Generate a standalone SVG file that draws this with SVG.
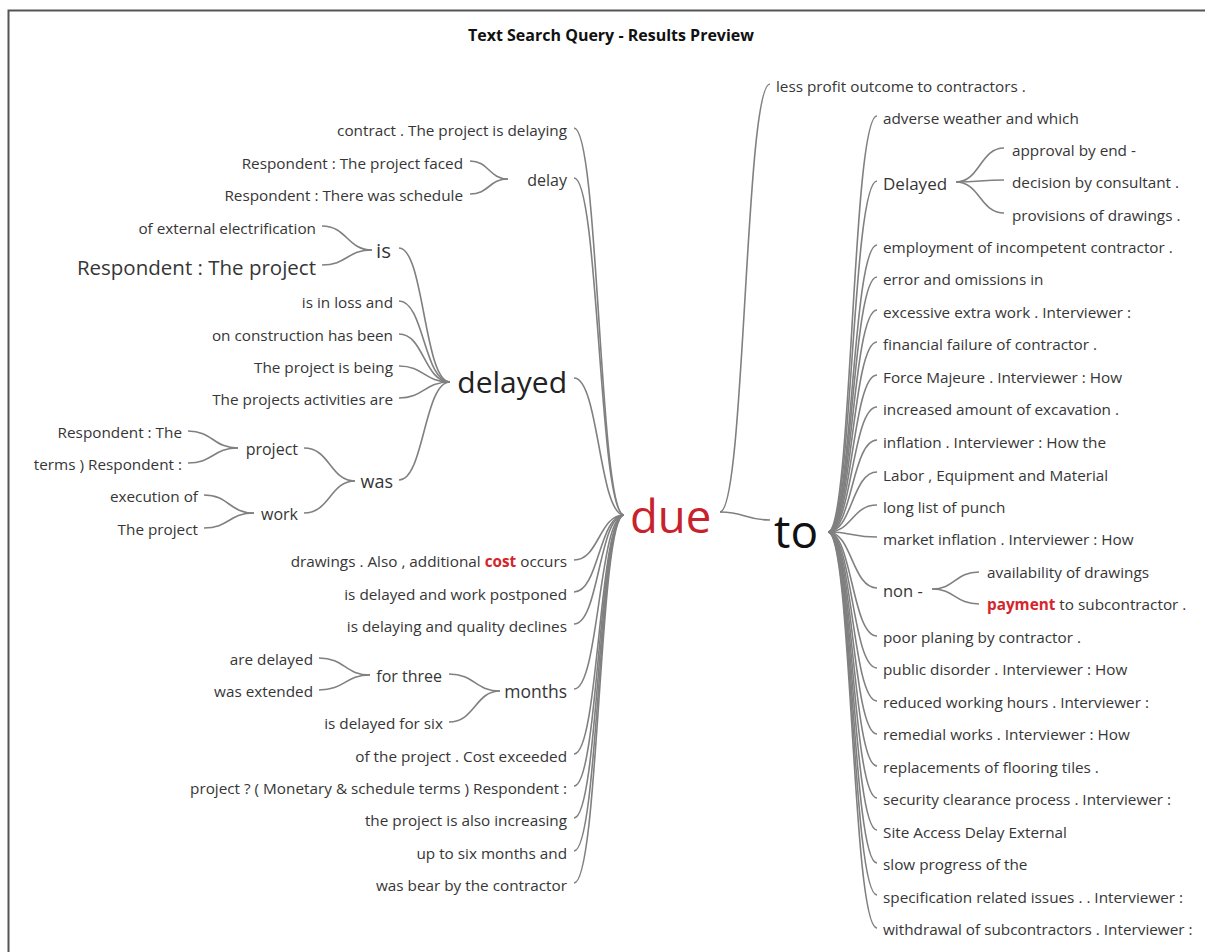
<svg xmlns="http://www.w3.org/2000/svg" width="1205" height="952" viewBox="0 0 1205 952">
<style>
text{font-family:"Open Sans","Noto Sans",sans-serif;fill:#363636;font-size:15.3px}
.e{text-anchor:end}
.hl{fill:#d3262c;font-weight:bold}
#connectors path{fill:none;stroke:#808080;stroke-width:1.6}
</style>
<rect width="1205" height="952" fill="#fff"/>
<path d="M8.5 952 V10.5 H1205" fill="none" stroke="#555" stroke-width="2"/>
<g id="title"><text x="611" y="41" text-anchor="middle" style="font-weight:bold;font-size:16px;fill:#111">Text Search Query - Results Preview</text></g>

<g id="connectors">
<path d="M574 128 C599 128 599 515 624 515"/>
<path d="M574 178 C599 178 599 515 624 515"/>
<path d="M574 378 C599 378 599 515 624 515"/>
<path d="M574 560 C599 560 599 515 624 515"/>
<path d="M574 592 C599 592 599 515 624 515"/>
<path d="M574 624 C599 624 599 515 624 515"/>
<path d="M574 689 C599 689 599 515 624 515"/>
<path d="M574 754 C599 754 599 515 624 515"/>
<path d="M574 786 C599 786 599 515 624 515"/>
<path d="M574 818 C599 818 599 515 624 515"/>
<path d="M574 851 C599 851 599 515 624 515"/>
<path d="M574 883 C599 883 599 515 624 515"/>
<path d="M470 161 C489 161 489 179 508 179"/>
<path d="M470 194 C489 194 489 179 508 179"/>
<path d="M322 226 C347 226 347 250 372 250"/>
<path d="M322 265 C347 265 347 250 372 250"/>
<path d="M399 248 C424 248 424 382 450 382"/>
<path d="M399 301 C424 301 424 382 450 382"/>
<path d="M399 334 C424 334 424 382 450 382"/>
<path d="M399 366 C424 366 424 382 450 382"/>
<path d="M399 398 C424 398 424 382 450 382"/>
<path d="M399 480 C424 480 424 382 450 382"/>
<path d="M188 431 C213 431 213 448 238 448"/>
<path d="M188 463 C213 463 213 448 238 448"/>
<path d="M204 495 C229 495 229 513 254 513"/>
<path d="M204 528 C229 528 229 513 254 513"/>
<path d="M304 448 C330 448 330 481 355 481"/>
<path d="M304 513 C330 513 330 481 355 481"/>
<path d="M319 658 C345 658 345 675 370 675"/>
<path d="M319 690 C345 690 345 675 370 675"/>
<path d="M449 674 C475 674 475 691 500 691"/>
<path d="M449 722 C475 722 475 691 500 691"/>
<path d="M720 512 C745 512 745 84 770 84"/>
<path d="M720 512 C745 512 745 520 770 520"/>
<path d="M828 532 C852 532 852 116 877 116"/>
<path d="M828 532 C852 532 852 181 877 181"/>
<path d="M828 532 C852 532 852 245 877 245"/>
<path d="M828 532 C852 532 852 277 877 277"/>
<path d="M828 532 C852 532 852 310 877 310"/>
<path d="M828 532 C852 532 852 342 877 342"/>
<path d="M828 532 C852 532 852 375 877 375"/>
<path d="M828 532 C852 532 852 407 877 407"/>
<path d="M828 532 C852 532 852 440 877 440"/>
<path d="M828 532 C852 532 852 472 877 472"/>
<path d="M828 532 C852 532 852 505 877 505"/>
<path d="M828 532 C852 532 852 537 877 537"/>
<path d="M828 532 C852 532 852 588 877 588"/>
<path d="M828 532 C852 532 852 636 877 636"/>
<path d="M828 532 C852 532 852 668 877 668"/>
<path d="M828 532 C852 532 852 701 877 701"/>
<path d="M828 532 C852 532 852 734 877 734"/>
<path d="M828 532 C852 532 852 766 877 766"/>
<path d="M828 532 C852 532 852 798 877 798"/>
<path d="M828 532 C852 532 852 830 877 830"/>
<path d="M828 532 C852 532 852 863 877 863"/>
<path d="M828 532 C852 532 852 895 877 895"/>
<path d="M828 532 C852 532 852 928 877 928"/>
<path d="M956 182 C980 182 980 148 1004 148"/>
<path d="M956 182 C980 182 980 180 1004 180"/>
<path d="M956 182 C980 182 980 213 1004 213"/>
<path d="M932 589 C955 589 955 572 979 572"/>
<path d="M932 589 C955 589 955 604 979 604"/>
</g>

<g id="n-due"><text x="630" y="533" style="font-size:45.5px;fill:#c8232c">due</text></g>
<g id="n-to"><text x="774" y="548" style="font-size:46px;fill:#111">to</text></g>

<g id="n-contract"><text class="e" x="567" y="136">contract . The project is delaying</text></g>
<g id="n-delay"><text class="e" x="567" y="186" style="font-size:16px">delay</text></g>
<g id="n-faced"><text class="e" x="463" y="169">Respondent : The project faced</text></g>
<g id="n-schedule"><text class="e" x="463" y="201">Respondent : There was schedule</text></g>
<g id="n-electrification"><text class="e" x="316" y="234">of external electrification</text></g>
<g id="n-resp-project"><text class="e" x="316" y="275" style="font-size:20.5px">Respondent : The project</text></g>
<g id="n-is"><text x="376" y="258" style="font-size:20.5px">is</text></g>
<g id="n-loss"><text class="e" x="393" y="308">is in loss and</text></g>
<g id="n-construction"><text class="e" x="393" y="341">on construction has been</text></g>
<g id="n-being"><text class="e" x="393" y="373">The project is being</text></g>
<g id="n-activities"><text class="e" x="393" y="405">The projects activities are</text></g>
<g id="n-delayed"><text class="e" x="567" y="393" style="font-size:30px;fill:#222">delayed</text></g>
<g id="n-resp-the"><text class="e" x="182" y="438">Respondent : The</text></g>
<g id="n-terms"><text class="e" x="182" y="470">terms ) Respondent :</text></g>
<g id="n-project"><text class="e" x="298" y="455" style="font-size:16px">project</text></g>
<g id="n-execution"><text class="e" x="198" y="502">execution of</text></g>
<g id="n-the-project"><text class="e" x="198" y="535">The project</text></g>
<g id="n-work"><text class="e" x="298" y="520" style="font-size:16px">work</text></g>
<g id="n-was"><text class="e" x="393" y="488" style="font-size:18px">was</text></g>
<g id="n-drawings"><text class="e" x="567" y="567">drawings . Also , additional <tspan class="hl">cost</tspan> occurs</text></g>
<g id="n-postponed"><text class="e" x="567" y="600">is delayed and work postponed</text></g>
<g id="n-declines"><text class="e" x="567" y="632">is delaying and quality declines</text></g>
<g id="n-are-delayed"><text class="e" x="313" y="665">are delayed</text></g>
<g id="n-extended"><text class="e" x="313" y="697">was extended</text></g>
<g id="n-for-three"><text class="e" x="442" y="682" style="font-size:16px">for three</text></g>
<g id="n-six"><text class="e" x="443" y="729">is delayed for six</text></g>
<g id="n-months"><text class="e" x="567" y="698" style="font-size:17.5px">months</text></g>
<g id="n-exceeded"><text class="e" x="567" y="762">of the project . Cost exceeded</text></g>
<g id="n-monetary"><text class="e" x="567" y="794">project ? ( Monetary &amp; schedule terms ) Respondent :</text></g>
<g id="n-increasing"><text class="e" x="567" y="826">the project is also increasing</text></g>
<g id="n-six-months"><text class="e" x="567" y="859">up to six months and</text></g>
<g id="n-bear"><text class="e" x="567" y="891">was bear by the contractor</text></g>

<g id="n-less"><text x="776" y="92">less profit outcome to contractors .</text></g>
<g id="n-adverse"><text x="883" y="124">adverse weather and which</text></g>
<g id="n-Delayed"><text x="883" y="190" style="font-size:17px">Delayed</text></g>
<g id="n-approval"><text x="1012" y="156">approval by end -</text></g>
<g id="n-decision"><text x="1012" y="188">decision by consultant .</text></g>
<g id="n-provisions"><text x="1012" y="221">provisions of drawings .</text></g>
<g id="n-employment"><text x="883" y="253">employment of incompetent contractor .</text></g>
<g id="n-error"><text x="883" y="285">error and omissions in</text></g>
<g id="n-excessive"><text x="883" y="318">excessive extra work . Interviewer :</text></g>
<g id="n-financial"><text x="883" y="350">financial failure of contractor .</text></g>
<g id="n-force"><text x="883" y="383">Force Majeure . Interviewer : How</text></g>
<g id="n-increased"><text x="883" y="415">increased amount of excavation .</text></g>
<g id="n-inflation"><text x="883" y="448">inflation . Interviewer : How the</text></g>
<g id="n-labor"><text x="883" y="481">Labor , Equipment and Material</text></g>
<g id="n-long"><text x="883" y="513">long list of punch</text></g>
<g id="n-market"><text x="883" y="545">market inflation . Interviewer : How</text></g>
<g id="n-non"><text x="883" y="597" style="font-size:16.5px">non -</text></g>
<g id="n-availability"><text x="987" y="578">availability of drawings</text></g>
<g id="n-payment"><text x="987" y="610"><tspan class="hl">payment</tspan> to subcontractor .</text></g>
<g id="n-poor"><text x="883" y="643">poor planing by contractor .</text></g>
<g id="n-public"><text x="883" y="675">public disorder . Interviewer : How</text></g>
<g id="n-reduced"><text x="883" y="708">reduced working hours . Interviewer :</text></g>
<g id="n-remedial"><text x="883" y="740">remedial works . Interviewer : How</text></g>
<g id="n-replacements"><text x="883" y="773">replacements of flooring tiles .</text></g>
<g id="n-security"><text x="883" y="805">security clearance process . Interviewer :</text></g>
<g id="n-site"><text x="883" y="838">Site Access Delay External</text></g>
<g id="n-slow"><text x="883" y="870">slow progress of the</text></g>
<g id="n-specification"><text x="883" y="903">specification related issues . . Interviewer :</text></g>
<g id="n-withdrawal"><text x="883" y="935">withdrawal of subcontractors . Interviewer :</text></g>
</svg>
